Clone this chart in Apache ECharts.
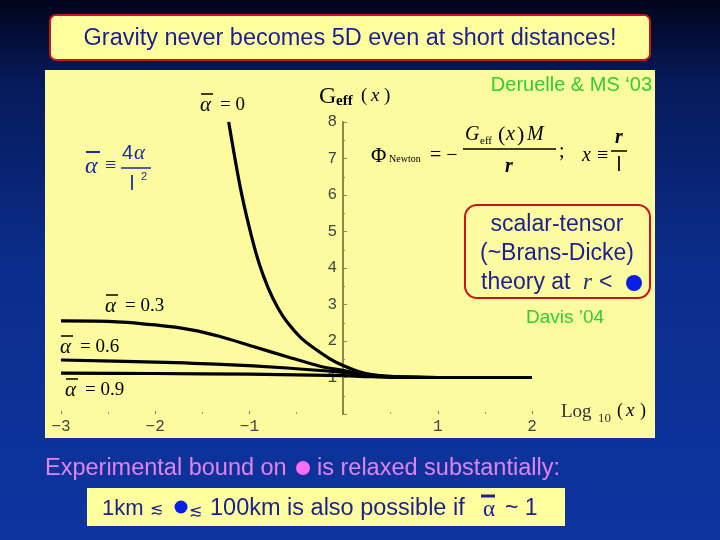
<!DOCTYPE html>
<html lang="en">

<head>
    <meta charset="UTF-8">
    <title>Gravity never becomes 5D</title>
    <script src="https://cdn.jsdelivr.net/npm/echarts@6/dist/echarts.min.js"></script>
    <style>
        html, body { margin: 0; padding: 0; }
        #chart { width: 720px; height: 540px; }
    </style>
</head>

<body>
    <div id="chart"></div>

    <script>
        // curve data: x = log10(r/l), y = Geff(x)
        var xAlpha0 = [-1.22, -1.10, -1.00, -0.90, -0.80, -0.70, -0.60, -0.45, -0.30, -0.15, 0, 0.15, 0.30, 0.50, 0.70, 1.0, 2.0];
        var gAlpha0 = [8.0, 6.25, 5.1, 4.15, 3.45, 2.92, 2.52, 2.08, 1.78, 1.52, 1.32, 1.17, 1.08, 1.03, 1.01, 1.0, 1.0];

        var xAlpha03 = [-3, -2.5, -2.0, -1.6, -1.32, -0.96, -0.6, -0.25, 0, 0.2, 0.4, 0.7, 1.0, 2.0];
        var gAlpha03 = [2.55, 2.54, 2.44, 2.3, 2.13, 1.85, 1.57, 1.31, 1.19, 1.1, 1.04, 1.01, 1.0, 1.0];

        var xAlpha06 = [-3, -2, -1.3, -0.6, 0, 0.25, 0.5, 1.0, 2.0];
        var gAlpha06 = [1.48, 1.42, 1.36, 1.26, 1.14, 1.07, 1.02, 1.0, 1.0];

        var xAlpha09 = [-3, -2, -1, 0, 0.3, 0.6, 2.0];
        var gAlpha09 = [1.12, 1.11, 1.09, 1.05, 1.02, 1.0, 1.0];

        var seriesNames = ['0', '0.3', '0.6', '0.9'];
        var xTicks = [-3, -2, -1, 1, 2];

        var serif = "'Liberation Serif', 'DejaVu Serif', serif";
        var sans = "'Liberation Sans', Arial, sans-serif";
        var navy = '#1b1f8f';

        function pairs(xs, ys) {
            return xs.map(function (x, i) { return [x, ys[i]]; });
        }

        function txt(x, y, text, font, fill, align) {
            return {
                type: 'text', z: 50,
                style: { x: x, y: y, text: text, font: font, fill: fill || '#000', align: align || 'left', verticalAlign: 'middle' }
            };
        }

        function bar(x1, x2, y, color, w) {
            return { type: 'line', z: 50, shape: { x1: x1, y1: y, x2: x2, y2: y }, style: { stroke: color || '#000', lineWidth: w || 1.5 } };
        }

        // alpha with overline followed by "= value"
        function alphaLabel(x, y, value) {
            return [
                txt(x, y, 'α', 'italic 21px ' + serif),
                bar(x + 1, x + 13, y - 11, '#000', 1.5),
                txt(x + 20, y, '= ' + value, '19px ' + serif)
            ];
        }

        var graphics = [
            // slide background
            {
                type: 'rect', z: -20, shape: { x: 0, y: 0, width: 720, height: 540 },
                style: {
                    fill: {
                        type: 'linear', x: 0, y: 0, x2: 0, y2: 1,
                        colorStops: [
                            { offset: 0, color: '#01041a' },
                            { offset: 0.15, color: '#061a5a' },
                            { offset: 0.5, color: '#0b2d8c' },
                            { offset: 1, color: '#0e34a0' }
                        ]
                    }
                }
            },
            // title box
            { type: 'rect', z: 40, shape: { x: 50, y: 15, width: 600, height: 45, r: 6 }, style: { fill: '#ffff9e', stroke: '#c4161c', lineWidth: 2 } },
            txt(350, 39, 'Gravity never becomes 5D even at short distances!', '23.5px ' + sans, navy, 'center'),
            // plot panel
            { type: 'rect', z: -10, shape: { x: 45, y: 70, width: 610, height: 368 }, style: { fill: '#fcfba0' } },
            txt(652, 85, 'Deruelle & MS \u201803', '20px ' + sans, '#33cc33', 'right'),
            // Geff(x) axis title
            txt(319, 97, 'G', '24px ' + serif),
            txt(336, 101, 'eff', 'bold 15px ' + serif),
            txt(361, 96, '(', '19px ' + serif),
            txt(371, 96, 'x', 'italic 19px ' + serif),
            txt(384, 96, ')', '19px ' + serif),
            // Newton potential formula
            txt(371, 156, 'Φ', '21px ' + serif),
            txt(389, 159, 'Newton', '10px ' + serif),
            txt(430, 156, '= −', '20px ' + serif),
            txt(465, 135, 'G', 'italic 20px ' + serif),
            txt(480, 141, 'eff', '11px ' + serif),
            txt(498, 135, '(', '22px ' + serif),
            txt(506, 135, 'x', 'italic 20px ' + serif),
            txt(517, 135, ')', '22px ' + serif),
            txt(527, 135, 'M', 'italic 20px ' + serif),
            bar(463, 556, 149),
            txt(509, 167, 'r', 'italic bold 20px ' + serif, '#000', 'center'),
            txt(559, 152, ';', '20px ' + serif),
            txt(582, 156, 'x', 'italic 20px ' + serif),
            txt(597, 156, '≡', '20px ' + serif),
            txt(619, 138, 'r', 'italic bold 20px ' + serif, '#000', 'center'),
            bar(611, 627, 151),
            txt(619, 165, 'l', '20px ' + sans, '#000', 'center'),
            // alpha-bar definition
            txt(85, 167, 'α', 'italic 24px ' + serif, '#1b2aa8'),
            bar(86, 100, 152, '#1b2aa8', 2),
            txt(105, 166, '≡', '20px ' + serif, '#1b2aa8'),
            txt(122, 153, '4', '20px ' + sans, '#1b2aa8'),
            txt(134, 153, 'α', 'italic 21px ' + serif, '#1b2aa8'),
            bar(121, 151, 168, '#1b2aa8', 1.5),
            txt(132, 184, 'l', '20px ' + sans, '#1b2aa8', 'center'),
            txt(141, 177, '2', '11px ' + sans, '#1b2aa8'),
            // scalar-tensor box
            { type: 'rect', z: 40, shape: { x: 465, y: 205, width: 185, height: 93, r: 12 }, style: { fill: '#fcfba0', stroke: '#c4161c', lineWidth: 2 } },
            txt(557, 225, 'scalar-tensor', '23px ' + sans, navy, 'center'),
            txt(557, 254, '(~Brans-Dicke)', '23px ' + sans, navy, 'center'),
            txt(481, 283, 'theory at', '23px ' + sans, navy),
            txt(583, 283, 'r', 'italic 23px ' + serif, navy),
            txt(599, 283, '<', '23px ' + sans, navy),
            { type: 'circle', z: 50, shape: { cx: 634, cy: 283, r: 8 }, style: { fill: '#0a1ee6' } },
            txt(565, 318, 'Davis \u201904', '19px ' + sans, '#33cc33', 'center'),
            // log10(x) axis title
            txt(561, 412, 'Log', '19px ' + serif, '#333'),
            txt(598, 419, '10', '13px ' + serif, '#333'),
            txt(617, 411, '(', '18px ' + serif),
            txt(626, 411, 'x', 'italic 19px ' + serif),
            txt(640, 411, ')', '18px ' + serif),
            // bottom remarks
            txt(45, 469, 'Experimental bound on', '23.5px ' + sans, '#e483f0'),
            { type: 'circle', z: 50, shape: { cx: 303, cy: 468, r: 7 }, style: { fill: '#ff6cf5' } },
            txt(317, 469, 'is relaxed substantially:', '23.5px ' + sans, '#e483f0'),
            { type: 'rect', z: 40, shape: { x: 87, y: 488, width: 478, height: 38 }, style: { fill: '#ffffa0' } },
            txt(102, 509, '1km', '22px ' + sans, navy),
            txt(150, 510, '\u2272', '16px ' + sans, navy),
            { type: 'circle', z: 50, shape: { cx: 181, cy: 507, r: 6.5 }, style: { fill: '#0a1ee6' } },
            txt(189, 512, '\u2272', '16px ' + sans, navy),
            txt(210, 509, '100km is also possible if', '23.5px ' + sans, navy),
            txt(483, 510, 'α', '23px ' + serif, navy),
            bar(481, 495, 496, navy, 3),
            txt(505, 509, '~ 1', '23px ' + sans, navy)
        ];

        graphics = graphics
            .concat(alphaLabel(200, 105, '0'))
            .concat(alphaLabel(105, 306, '0.3'))
            .concat(alphaLabel(60, 347, '0.6'))
            .concat(alphaLabel(65, 390, '0.9'));

        var curves = [pairs(xAlpha0, gAlpha0), pairs(xAlpha03, gAlpha03), pairs(xAlpha06, gAlpha06), pairs(xAlpha09, gAlpha09)];

        var chart = echarts.init(document.getElementById('chart'));
        chart.setOption({
            animation: false,
            backgroundColor: '#0b2d8c',
            grid: { left: 61, right: 188, top: 122, bottom: 126 },
            xAxis: {
                type: 'value', min: -3, max: 2, interval: 1,
                axisLine: { show: false },
                splitLine: { show: false },
                axisTick: { show: true, inside: true, length: 3, lineStyle: { color: '#777' } },
                minorTick: { show: true, splitNumber: 2, length: 2, lineStyle: { color: '#999' } },
                axisLabel: {
                    margin: 5, fontSize: 16, color: '#444', fontFamily: "'Liberation Mono', monospace",
                    formatter: function (v) {
                        return xTicks.indexOf(v) < 0 ? '' : String(v).replace('-', '\u2212');
                    }
                }
            },
            yAxis: {
                type: 'value', min: 0, max: 8, interval: 1,
                position: 'left', offset: -282,
                axisLine: { show: true, onZero: false, lineStyle: { color: '#8c8a4a', width: 2 } },
                splitLine: { show: false },
                axisTick: { show: true, inside: true, length: 4, lineStyle: { color: '#8c8a4a' } },
                minorTick: { show: true, splitNumber: 2, length: 2, lineStyle: { color: '#8c8a4a' } },
                axisLabel: {
                    margin: 6, fontSize: 16, color: '#444', fontFamily: "'Liberation Mono', monospace",
                    formatter: function (v) { return v === 0 ? '' : v; }
                }
            },
            series: curves.map(function (d, i) {
                return {
                    name: seriesNames[i], type: 'line', data: d,
                    smooth: 0.3, showSymbol: false, z: 10,
                    lineStyle: { color: '#000', width: 3.2 }
                };
            }),
            graphic: graphics
        });
    </script>
</body>

</html>
